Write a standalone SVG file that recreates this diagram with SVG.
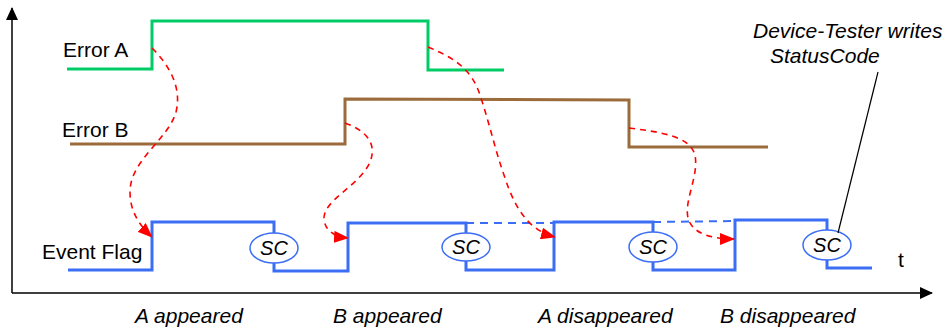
<svg xmlns="http://www.w3.org/2000/svg" width="951" height="330" viewBox="0 0 951 330">
<defs>
<marker id="ah" markerWidth="15" markerHeight="12" refX="14" refY="6" orient="auto" markerUnits="userSpaceOnUse">
<path d="M0,0 L15,6 L0,12 Z" fill="#FF0000"/>
</marker>
<marker id="ax" markerWidth="13" markerHeight="12" refX="12" refY="6" orient="auto" markerUnits="userSpaceOnUse">
<path d="M0,0 L13,6 L0,12 Z" fill="#000"/>
</marker>
</defs>
<style>
text{font-family:"Liberation Sans",Arial,sans-serif;font-size:21px;fill:#000}
.it{font-style:italic}
.s{font-size:20px}
.sig{fill:none;stroke-width:3;stroke-linejoin:miter}
.flag{stroke:#3B6EF5}
.dash{fill:none;stroke:#FF0000;stroke-width:1.6;stroke-dasharray:6,5}
.sc{fill:#fff;stroke:#3B6EF5;stroke-width:1.5}
</style>
<rect width="951" height="330" fill="#fff"/>
<g id="axes">
<line x1="12" y1="293" x2="12" y2="8" stroke="#000" stroke-width="1.5" marker-end="url(#ax)"/>
<line x1="12" y1="293" x2="932" y2="293" stroke="#000" stroke-width="1.5" marker-end="url(#ax)"/>
<text x="898" y="267">t</text>
</g>
<g id="errorA">
<polyline class="sig" stroke="#00CC66" points="67,69 152,69 152,21 428,21 428,70 504,70"/>
<text x="63" y="57">Error A</text>
</g>
<g id="errorB">
<polyline class="sig" stroke="#9C6B3C" points="70,144 345,144 345,99 629,100 629,147 768,147"/>
<text x="62" y="137">Error B</text>
</g>
<g id="eventFlag">
<polyline class="sig flag" points="68,270 152,270 152,222 274,222 274,271 348,271 348,223 466,223 466,270 554,270 554,222 653,222 653,270 735,270 735,220 827,220 827,268 872,268"/>
<line x1="466" y1="223" x2="554" y2="223" stroke="#3B6EF5" stroke-width="2" stroke-dasharray="8,6"/>
<line x1="653" y1="222" x2="735" y2="221" stroke="#3B6EF5" stroke-width="2" stroke-dasharray="8,6"/>
<text x="42" y="259">Event Flag</text>
</g>
<g id="sc1"><ellipse class="sc" cx="274" cy="248" rx="24" ry="15"/><text class="it s" x="274" y="255" text-anchor="middle">SC</text></g>
<g id="sc2"><ellipse class="sc" cx="466" cy="247" rx="24" ry="14"/><text class="it s" x="466" y="254" text-anchor="middle">SC</text></g>
<g id="sc3"><ellipse class="sc" cx="653" cy="247" rx="24" ry="15"/><text class="it s" x="653" y="254" text-anchor="middle">SC</text></g>
<g id="sc4"><ellipse class="sc" cx="827" cy="245" rx="24" ry="15"/><text class="it s" x="827" y="252" text-anchor="middle">SC</text></g>
<g id="connectors">
<path class="dash" marker-end="url(#ah)" d="M152,48 C170,66 182,88 176,112 C168,140 130,160 130,192 C130,212 140,226 152,237"/>
<path class="dash" marker-end="url(#ah)" d="M345,123 C364,130 378,142 370,162 C360,186 322,200 324,220 C326,232 336,237 348,238"/>
<path class="dash" marker-end="url(#ah)" d="M428,47 C455,58 472,70 480,95 C490,125 495,150 505,178 C515,208 528,230 555,237"/>
<path class="dash" marker-end="url(#ah)" d="M629,128 C660,132 690,136 695,155 C699,176 684,200 688,218 C692,233 710,239 734,239"/>
<line x1="878" y1="72" x2="838" y2="233" stroke="#000" stroke-width="1.2"/>
</g>
<g id="labels">
<text class="it" x="135" y="323">A appeared</text>
<text class="it" x="333" y="323">B appeared</text>
<text class="it" x="538" y="323">A disappeared</text>
<text class="it" x="720" y="323">B disappeared</text>
<text class="it" x="753" y="38">Device-Tester writes</text>
<text class="it" x="770" y="63">StatusCode</text>
</g>
</svg>
